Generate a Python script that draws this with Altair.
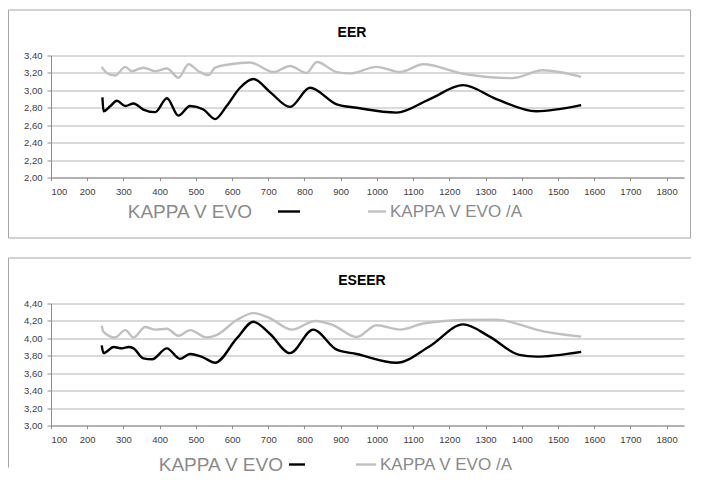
import altair as alt
import pandas as pd

# ---------------- data ----------------
x_ticks = [100, 200, 300, 400, 500, 600, 700, 800, 900, 1000, 1100, 1200, 1300, 1400, 1500, 1600, 1700, 1800]
eer_ticks = [2.0, 2.2, 2.4, 2.6, 2.8, 3.0, 3.2, 3.4]
eseer_ticks = [3.0, 3.2, 3.4, 3.6, 3.8, 4.0, 4.2, 4.4]
series_names = ["KAPPA V EVO", "KAPPA V EVO /A"]

eer_evo_x = [242, 245, 264, 282, 305, 328, 355, 388, 420, 452, 484, 521, 553, 585, 622, 659, 705, 760, 815, 889, 944, 1054, 1146, 1238, 1330, 1440, 1564]
eer_evo_y = [2.92, 2.76, 2.82, 2.88, 2.82, 2.85, 2.78, 2.75, 2.91, 2.71, 2.82, 2.78, 2.67, 2.82, 3.03, 3.13, 2.98, 2.81, 3.03, 2.84, 2.80, 2.745, 2.90, 3.06, 2.90, 2.76, 2.83]

eer_a_x = [240, 254, 277, 305, 323, 355, 388, 420, 452, 480, 507, 535, 553, 595, 650, 714, 760, 806, 834, 889, 926, 999, 1064, 1128, 1238, 1375, 1458, 1564]
eer_a_y = [3.27, 3.20, 3.17, 3.27, 3.22, 3.26, 3.22, 3.25, 3.145, 3.30, 3.22, 3.175, 3.26, 3.30, 3.32, 3.21, 3.28, 3.20, 3.325, 3.21, 3.195, 3.27, 3.21, 3.30, 3.19, 3.14, 3.23, 3.155]

eseer_evo_x = [240, 245, 273, 296, 314, 328, 355, 379, 420, 456, 484, 521, 553, 613, 659, 705, 760, 824, 889, 944, 1054, 1146, 1238, 1311, 1393, 1440, 1564]
eseer_evo_y = [3.92, 3.83, 3.90, 3.885, 3.90, 3.885, 3.77, 3.76, 3.885, 3.765, 3.82, 3.78, 3.72, 4.00, 4.19, 4.05, 3.83, 4.10, 3.87, 3.82, 3.72, 3.91, 4.16, 4.02, 3.81, 3.79, 3.845]

eseer_a_x = [240, 245, 277, 305, 328, 360, 388, 420, 452, 484, 530, 558, 613, 659, 705, 765, 830, 880, 944, 999, 1064, 1128, 1238, 1330, 1385, 1440, 1564]
eseer_a_y = [4.145, 4.075, 4.01, 4.095, 4.01, 4.13, 4.10, 4.11, 4.03, 4.095, 4.01, 4.04, 4.21, 4.29, 4.23, 4.10, 4.20, 4.15, 4.015, 4.15, 4.10, 4.17, 4.21, 4.215, 4.17, 4.10, 4.02]

# ---------------- style ----------------
W, H = 633, 122
FONT = "Liberation Sans"
AXIS_GREY = "#8c8c8c"
GRID_GREY = "#b4b4b4"
LABEL_COL = "#404040"
LEG_COL = "#8a8a8a"


def one(**kw):
    return pd.DataFrame({k: [v] for k, v in kw.items()})


def panel(title, title_x, evo_x, evo_y, a_x, a_y, yticks, leg, top_box):
    df = pd.concat([
        pd.DataFrame({"x": a_x, "y": a_y, "s": series_names[1], "o": 0}),
        pd.DataFrame({"x": evo_x, "y": evo_y, "s": series_names[0], "o": 1}),
    ])
    lines = alt.Chart(df).mark_line(interpolate="monotone", strokeWidth=2.4).encode(
        x=alt.X("x:Q", scale=alt.Scale(domain=[100, 1848], nice=False, zero=False),
                axis=alt.Axis(values=x_ticks, grid=False, title=None, tickSize=3,
                              labelPadding=6, format="d")),
        y=alt.Y("y:Q", scale=alt.Scale(domain=[yticks[0], yticks[-1]], nice=False, zero=False),
                axis=alt.Axis(values=yticks, grid=True, title=None, tickSize=4, labelPadding=5,
                              labelExpr="replace(format(datum.value, '.2f'), '.', ',')")),
        color=alt.Color("s:N", scale=alt.Scale(domain=series_names, range=["#000000", "#c0c0c0"]),
                        legend=None),
        detail="s:N",
        order="o:Q",
    )

    layers = []
    if top_box:
        layers.append(alt.Chart(one(a=1)).mark_rect(fillOpacity=0, stroke="#a6a6a6", strokeWidth=1).encode(
            x=alt.value(-42.5), x2=alt.value(639.5), y=alt.value(-45.5), y2=alt.value(182.5)))
    else:
        layers.append(alt.Chart(one(a=1)).mark_rule(stroke="#a6a6a6", strokeWidth=1).encode(
            x=alt.value(-42.5), x2=alt.value(640), y=alt.value(-45.5)))
        layers.append(alt.Chart(one(a=1)).mark_rule(stroke="#a6a6a6", strokeWidth=1).encode(
            x=alt.value(-42.5), y=alt.value(-45.5), y2=alt.value(164)))

    layers.append(alt.Chart(one(t=title)).mark_text(font=FONT, fontSize=14, fontWeight="bold",
                                                   color="#000000", baseline="middle", align="center").encode(
        x=alt.value(title_x), y=alt.value(-23), text="t:N"))

    # legend
    layers.append(alt.Chart(one(t=series_names[0])).mark_text(font=FONT, fontSize=leg["fs1"], color=LEG_COL,
                                                              baseline="middle", align="right").encode(
        x=alt.value(leg["t1"]), y=alt.value(leg["y"]), text="t:N"))
    layers.append(alt.Chart(one(a=1)).mark_rule(stroke="#000000", strokeWidth=2.4).encode(
        x=alt.value(leg["s1"][0]), x2=alt.value(leg["s1"][1]), y=alt.value(leg["y"])))
    layers.append(alt.Chart(one(a=1)).mark_rule(stroke="#c0c0c0", strokeWidth=2.4).encode(
        x=alt.value(leg["s2"][0]), x2=alt.value(leg["s2"][1]), y=alt.value(leg["y"])))
    layers.append(alt.Chart(one(t=series_names[1])).mark_text(font=FONT, fontSize=leg["fs2"], color=LEG_COL,
                                                              baseline="middle", align="left").encode(
        x=alt.value(leg["t2"]), y=alt.value(leg["y"]), text="t:N"))

    return alt.layer(lines, *layers).properties(width=W, height=H)


top = panel("EER", 301, eer_evo_x, eer_evo_y, eer_a_x, eer_a_y, eer_ticks,
            {"t1": 201, "s1": (227, 249), "s2": (317, 335), "t2": 339, "y": 156, "fs1": 19, "fs2": 17},
            True)
bottom = panel("ESEER", 311, eseer_evo_x, eseer_evo_y, eseer_a_x, eseer_a_y, eseer_ticks,
               {"t1": 232, "s1": (238, 254), "s2": (305, 325), "t2": 329, "y": 161, "fs1": 19, "fs2": 17},
               False)

chart = alt.vconcat(top, bottom, spacing=19).resolve_scale(
    x="independent", y="independent", color="shared"
).properties(
    padding={"left": 0, "top": 1.5, "right": 0, "bottom": 0}
).configure_view(stroke=None).configure_axis(
    labelFont=FONT, labelFontSize=9.5, labelColor=LABEL_COL,
    domainColor=AXIS_GREY, tickColor=AXIS_GREY, gridColor=GRID_GREY, gridWidth=1,
)

chart.save("out.html", embed_options={"renderer": "svg", "actions": False})
